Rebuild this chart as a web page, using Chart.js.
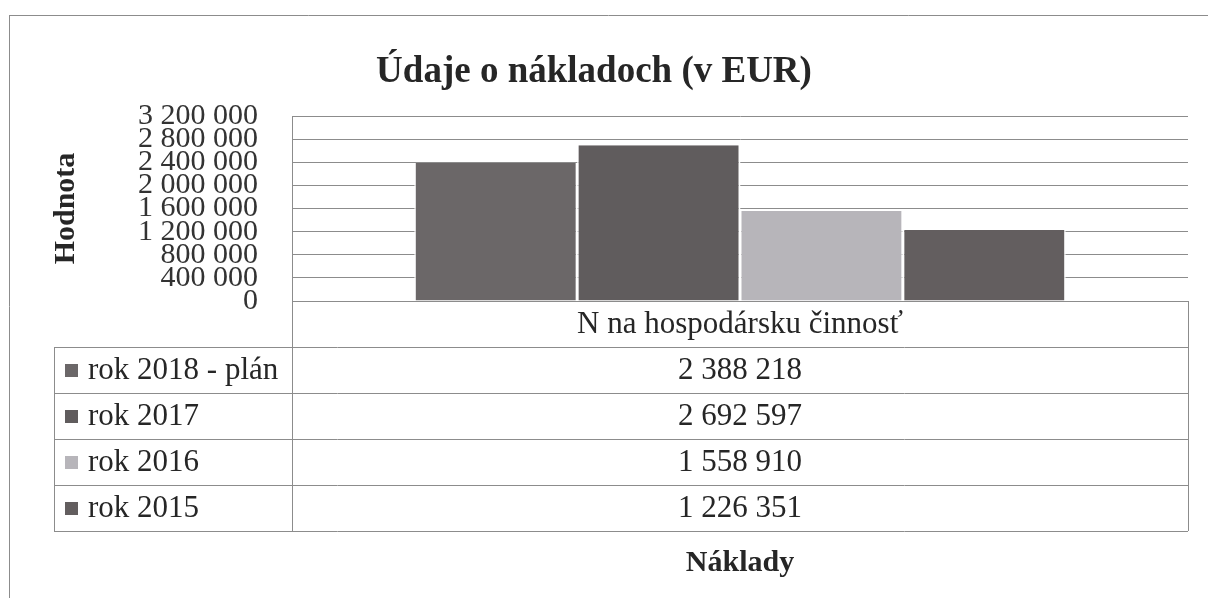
<!DOCTYPE html>
<html>
<head>
<meta charset="utf-8">
<script src="https://cdn.jsdelivr.net/npm/chart.js@4/dist/chart.umd.min.js"></script>
<style>
  html, body { margin: 0; padding: 0; background: #ffffff; }
  #wrap { width: 1208px; height: 598px; position: relative; }
</style>
</head>
<body>
<div id="wrap"><canvas id="c"></canvas></div>
<script>
// ---- data ----
const categories = ['N na hospodársku činnosť'];
const seriesNames = ['rok 2018 - plán', 'rok 2017', 'rok 2016', 'rok 2015'];
const seriesValues = [2388218, 2692597, 1558910, 1226351];
const yTickValues = [0, 400000, 800000, 1200000, 1600000, 2000000, 2400000, 2800000, 3200000];
const chartTitle = 'Údaje o nákladoch (v EUR)';
const yAxisTitle = 'Hodnota';
const xAxisTitle = 'Náklady';

// ---- styles ----
const seriesColors = ['#6b6768', '#605c5d', '#b7b5ba', '#635e5f'];
const FONT = '"Liberation Serif", "Times New Roman", serif';
const LINE = '#8c8c8c';
const TEXT = '#262626';

function fmt(v) {
  return String(v).replace(/\B(?=(\d{3})+(?!\d))/g, ' ');
}

const datasets = seriesNames.map((name, i) => ({
  label: name,
  data: [seriesValues[i]],
  backgroundColor: seriesColors[i],
  borderColor: '#ffffff',
  borderWidth: { left: 1.5, right: 1.5, top: 0, bottom: 0 },
  borderSkipped: false,
  categoryPercentage: 0.727,
  barPercentage: 1.0
}));

const tablePlugin = {
  id: 'dataTable',
  afterDraw(chart) {
    const ctx = chart.ctx;
    const area = chart.chartArea;
    const L = area.left, R = area.right, B = area.bottom;
    const headerH = 46, rowH = 46;
    const tableLeft = 54;
    const cx = (L + R) / 2;
    ctx.save();
    ctx.strokeStyle = LINE;
    ctx.lineWidth = 1;
    const hline = (x1, x2, y) => { ctx.beginPath(); ctx.moveTo(x1, y + 0.5); ctx.lineTo(x2, y + 0.5); ctx.stroke(); };
    const vline = (x, y1, y2) => { ctx.beginPath(); ctx.moveTo(x + 0.5, y1); ctx.lineTo(x + 0.5, y2); ctx.stroke(); };

    // outer chart border (extends beyond the visible window)
    hline(9, 1208, 15);
    vline(9, 15, 598);

    const headerTop = B;
    const rowsTop = B + headerH;
    const n = chart.data.datasets.length;
    const tableBottom = rowsTop + n * rowH;

    // header row
    hline(L, R, headerTop);
    vline(L, area.top, tableBottom);
    vline(R, headerTop, tableBottom);
    for (let i = 0; i <= n; i++) hline(tableLeft, R, rowsTop + i * rowH);
    vline(tableLeft, rowsTop, tableBottom);

    ctx.fillStyle = TEXT;
    ctx.font = '31px ' + FONT;
    ctx.textAlign = 'center';
    ctx.textBaseline = 'middle';
    chart.data.labels.forEach(lab => ctx.fillText(lab, cx, headerTop + headerH / 2 + 1));

    chart.data.datasets.forEach((ds, i) => {
      const yc = rowsTop + i * rowH + rowH / 2 + 1;
      ctx.fillStyle = ds.backgroundColor;
      ctx.fillRect(tableLeft + 11, yc - 7, 13, 13);
      ctx.fillStyle = TEXT;
      ctx.textAlign = 'left';
      ctx.fillText(ds.label, tableLeft + 34, yc);
      ctx.textAlign = 'center';
      ctx.fillText(fmt(ds.data[0]), cx, yc);
    });

    ctx.font = 'bold 30px ' + FONT;
    ctx.fillText(xAxisTitle, cx, tableBottom + 32);
    ctx.restore();
  }
};

new Chart(document.getElementById('c'), {
  type: 'bar',
  data: { labels: categories, datasets },
  plugins: [tablePlugin],
  options: {
    responsive: true,
    maintainAspectRatio: false,
    animation: false,
    layout: { padding: { left: 0, right: 20, top: 0, bottom: 0 } },
    plugins: {
      legend: { display: false },
      tooltip: { enabled: false },
      title: {
        display: true,
        text: chartTitle,
        color: TEXT,
        font: { family: FONT, size: 37, weight: 'bold' },
        padding: { top: 50, bottom: 21.6 }
      }
    },
    scales: {
      x: {
        ticks: { display: false },
        grid: { display: false },
        border: { display: false },
        afterFit(scale) { scale.height = 297; }
      },
      y: {
        min: 0,
        max: yTickValues[yTickValues.length - 1],
        afterBuildTicks(scale) { scale.ticks = yTickValues.map(v => ({ value: v })); },
        ticks: {
          autoSkip: false,
          padding: 34,
          color: '#333333',
          font: { family: FONT, size: 30 },
          callback: (v) => fmt(v)
        },
        grid: { color: LINE, lineWidth: 1, drawTicks: false },
        border: { display: true, color: LINE, width: 1 },
        title: {
          display: true,
          text: yAxisTitle,
          color: TEXT,
          font: { family: FONT, size: 30, weight: 'bold' },
          padding: { top: 48, bottom: 0 }
        },
        afterFit(scale) { scale.width = 292; }
      }
    }
  }
});
</script>
</body>
</html>
